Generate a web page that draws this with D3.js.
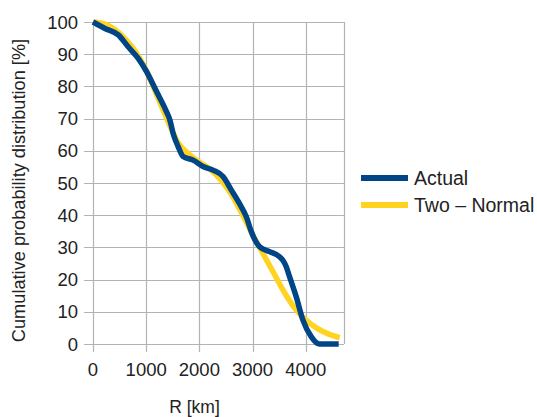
<!DOCTYPE html>
<html>
<head>
<meta charset="utf-8">
<script src="https://cdn.jsdelivr.net/npm/d3@7"></script>
<style>
  body { margin: 0; background: #fff; }
  text { font-family: "Liberation Sans", Arial, sans-serif; fill: #222; }
</style>
</head>
<body>
<div id="chart"></div>
<script>
// data
const actualR = [0, 225, 475, 662, 850, 1007, 1195, 1383, 1445, 1507, 1601, 1695, 1882, 2070, 2257, 2445, 2602, 2758, 2883, 2977, 3133, 3321, 3508, 3570, 3634, 3696, 3821, 3946, 4103, 4259, 4620];
const actualP = [100, 98, 96, 92.3, 88.7, 84.6, 78.4, 72.1, 69.6, 65.4, 61.3, 58.2, 57.1, 55.1, 54, 52, 47.8, 43.5, 39.5, 34.9, 30.2, 28.7, 27.1, 26, 24, 20.9, 14.7, 7.5, 2.3, 0, 0];
const normalR = [0, 200, 400, 600, 800, 1000, 1200, 1400, 1600, 1800, 2000, 2200, 2400, 2600, 2800, 3000, 3200, 3400, 3600, 3800, 4000, 4200, 4400, 4640];
const normalP = [100, 99.5, 97.8, 94.8, 90.8, 85, 77.3, 69.5, 62.5, 59, 56.5, 54.3, 51, 46.5, 40.5, 34, 28, 22, 16, 11, 7.5, 5, 3.3, 2];
const xTicks = [0, 1000, 2000, 3000, 4000];
const yTicks = [0, 10, 20, 30, 40, 50, 60, 70, 80, 90, 100];
const seriesNames = ["Actual", "Two \u2013 Normal"];
const colors = ["#004586", "#ffd320"];

const W = 537, H = 417;
const plot = { left: 93, right: 344, top: 22, bottom: 344 };

const svg = d3.select("#chart").append("svg").attr("width", W).attr("height", H);

const x = d3.scaleLinear().domain([0, 4720]).range([plot.left, plot.right]);
const y = d3.scaleLinear().domain([0, 100]).range([plot.bottom, plot.top]);

const grid = svg.append("g").attr("stroke", "#b3b3b3").attr("stroke-width", 1.2);
// horizontal grid + left ticks
grid.selectAll(".hg").data(yTicks).join("line")
    .attr("x1", plot.left - 9).attr("x2", plot.right)
    .attr("y1", d => Math.round(y(d)) + 0.5).attr("y2", d => Math.round(y(d)) + 0.5);
// vertical grid + bottom ticks
grid.selectAll(".vg").data(xTicks).join("line")
    .attr("x1", d => Math.round(x(d)) + 0.5).attr("x2", d => Math.round(x(d)) + 0.5)
    .attr("y1", plot.top).attr("y2", plot.bottom + 8);
// right border
grid.append("line")
    .attr("x1", plot.right + 0.5).attr("x2", plot.right + 0.5)
    .attr("y1", plot.top).attr("y2", plot.bottom);

// tick labels
svg.append("g").selectAll("text").data(yTicks).join("text")
    .attr("x", 78).attr("y", d => y(d)).attr("dy", "0.36em")
    .attr("text-anchor", "end").style("font-size", "18.5px")
    .text(d => d);
svg.append("g").selectAll("text").data(xTicks).join("text")
    .attr("x", d => x(d)).attr("y", 376)
    .attr("text-anchor", "middle").style("font-size", "18.5px")
    .text(d => d);

// axis titles
svg.append("text").attr("x", 194.5).attr("y", 413)
    .attr("text-anchor", "middle").style("font-size", "17.5px").text("R [km]");
svg.append("text")
    .attr("transform", `translate(25,${(28 + 353) / 2}) rotate(-90)`)
    .attr("text-anchor", "middle").style("font-size", "18.2px")
    .text("Cumulative probability distribution [%]");

// lines
const line = d3.line().x(d => x(d[0])).y(d => y(d[1])).curve(d3.curveMonotoneX);
const normalData = normalR.map((r, i) => [r, normalP[i]]);
const actualData = actualR.map((r, i) => [r, actualP[i]]);

svg.append("path").datum(normalData)
    .attr("d", line).attr("fill", "none")
    .attr("stroke", colors[1]).attr("stroke-width", 5.5);
svg.append("path").datum(actualData)
    .attr("d", line).attr("fill", "none")
    .attr("stroke", colors[0]).attr("stroke-width", 5.5);

// legend
const legend = svg.append("g").selectAll("g").data(seriesNames).join("g")
    .attr("transform", (d, i) => `translate(361,${178 + i * 27})`);
legend.append("line").attr("x1", 0).attr("x2", 47)
    .attr("stroke", (d, i) => colors[i]).attr("stroke-width", 6);
legend.append("text").attr("x", 53).attr("dy", "0.36em")
    .style("font-size", "19.5px").text(d => d);
</script>
</body>
</html>
